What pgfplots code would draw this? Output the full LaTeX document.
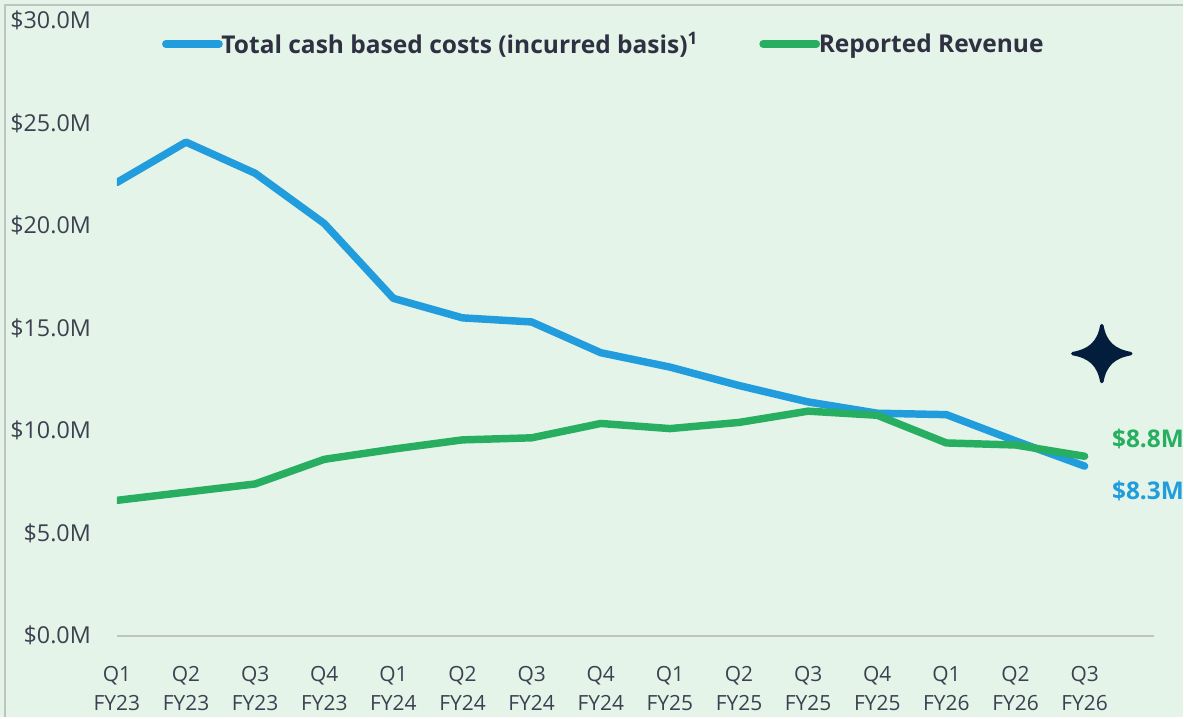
\documentclass[border=0pt]{standalone}
\usepackage{pgfplots}
\pgfplotsset{compat=1.18}
\usepackage{fontspec}
\setmainfont{Open Sans}
\definecolor{bgc}{HTML}{E4F4E9}
\definecolor{bordc}{HTML}{BFC4C0}
\definecolor{bluec}{HTML}{219CDC}
\definecolor{greenc}{HTML}{27AE60}
\definecolor{txtc}{HTML}{3C4150}
\definecolor{legc}{HTML}{2F3142}
\definecolor{starc}{HTML}{021E3C}
\pgfplotstableread{
x cost rev
0 22.1 6.6
1 24.07 7.0
2 22.55 7.4
3 20.1 8.6
4 16.45 9.1
5 15.5 9.55
6 15.3 9.65
7 13.8 10.35
8 13.1 10.1
9 12.2 10.4
10 11.4 10.95
11 10.85 10.75
12 10.78 9.4
13 9.5 9.3
14 8.27 8.75
}\datatable
\begin{document}
\begin{tikzpicture}
\begin{scope}[x=0.75pt,y=0.75pt]
\fill[bgc] (0,0) rectangle (1184,718);
\draw[bordc,line width=1.9pt] (5,0) -- (5,713) -- (1184,713);
\end{scope}
\begin{axis}[
  at={(87.75pt,61.2pt)}, anchor=south west,
  scale only axis, width=778.5pt, height=461.9pt,
  xmin=0, xmax=15, ymin=0, ymax=30,
  axis x line=bottom, axis y line=left,
  y axis line style={draw=none},
  x axis line style={draw=bordc,line width=1.5pt,-},
  xtick={0,...,14},
  xticklabels={Q1\\FY23,Q2\\FY23,Q3\\FY23,Q4\\FY23,Q1\\FY24,Q2\\FY24,Q3\\FY24,Q4\\FY24,Q1\\FY25,Q2\\FY25,Q3\\FY25,Q4\\FY25,Q1\\FY26,Q2\\FY26,Q3\\FY26},
  x tick label style={align=center,font=\fontsize{15.7pt}{21.5pt}\selectfont,text=txtc,yshift=-19.5pt},
  ytick={0,5,10,15,20,25,30},
  yticklabels={\$0.0M,\$5.0M,\$10.0M,\$15.0M,\$20.0M,\$25.0M,\$30.0M},
  y tick label style={font=\fontsize{17.5pt}{20pt}\selectfont,text=txtc,anchor=east,xshift=-16pt},
  major tick length=0pt,
  clip=true,
  legend style={at={(axis cs:0.65,29.55)},anchor=north west,draw=none,fill=none,inner sep=0pt,
    font=\fontsize{18.4pt}{22pt}\selectfont\bfseries\color{legc},
    legend columns=2,
    /tikz/every even column/.append style={column sep=44pt}},
  legend cell align=left,
  legend image code/.code={\draw[#1,line cap=round] (0pt,0pt) -- (40pt,0pt);},
]
\addplot[bluec,line width=5.6pt,line join=round,line cap=round] table[x=x,y=cost]{\datatable};
\addlegendentry{\hspace{-3pt}Total cash based costs (incurred basis)\textsuperscript{1}}
\addplot[greenc,line width=5.6pt,line join=round,line cap=round] table[x=x,y=rev]{\datatable};
\addlegendentry{\hspace{-3pt}Reported Revenue}
\end{axis}
\begin{scope}[x=0.75pt,y=0.75pt]
\node[anchor=west,font=\fontsize{18.3pt}{20pt}\selectfont\bfseries,text=greenc,inner sep=0pt] at (1113,278.5) {\$8.8M};
\node[anchor=west,font=\fontsize{18.3pt}{20pt}\selectfont\bfseries,text=bluec,inner sep=0pt] at (1113,226.5) {\$8.3M};
\filldraw[starc,line width=2.6pt,line join=round] (1103,392) .. controls (1106,375) and (1115,367) .. (1132,364) .. controls (1115,361) and (1106,353) .. (1103,336) .. controls (1100,353) and (1091,361) .. (1074,364) .. controls (1091,367) and (1100,375) .. (1103,392) -- cycle;
\end{scope}
\end{tikzpicture}
\end{document}
